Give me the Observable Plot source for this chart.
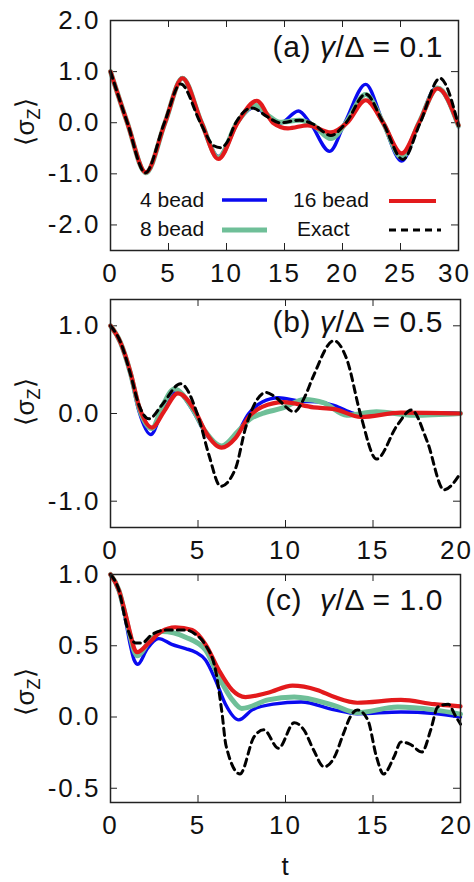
<!DOCTYPE html>
<html><head><meta charset="utf-8">
<script src="https://cdn.jsdelivr.net/npm/d3@7"></script>
<script src="https://cdn.jsdelivr.net/npm/@observablehq/plot@0.6"></script>
<style>
body{margin:0;background:#fff;}
#chart{width:474px;height:882px;}
#chart svg{display:block;overflow:visible;}
</style></head><body><div id="chart"></div>
<script>
// ---- shared ----
const seriesNames = ["4 bead", "8 bead", "16 bead", "Exact"];
const seriesColors = ["#0a0af0", "#6fbf98", "#e31a1c", "#000000"];
const panelLetters = ["(a)", "(b)", "(c)"];
const gammaRatios = ["0.1", "0.5", "1.0"];
const yLabelMain = "⟨σ";
const yLabelSub = "Z";
const yLabelEnd = "⟩";
const xLabel = "t";

// ---- panel (a): γ/Δ = 0.1 ----
const aXTicks = [0, 5, 10, 15, 20, 25, 30];
const aYTicks = [-2, -1, 0, 1, 2];
const aT4 = [0, 1.45, 3.05, 4.7, 6.2, 7.85, 9.3, 10.9, 12.4, 13.6, 14.6, 16.2, 17.2, 18.9, 20.2, 22.0, 23.5, 25.1, 26.6, 28.1, 30];
const aV4 = [1.0, 0, -0.98, 0, 0.88, 0, -0.66, 0, 0.30, 0.12, -0.01, 0.23, 0, -0.56, 0, 0.75, 0, -0.75, 0, 0.69, -0.08];
const aT8 = [0, 1.45, 3.05, 4.7, 6.2, 7.85, 9.3, 10.9, 12.5, 13.6, 14.6, 16.3, 17.5, 19.0, 20.3, 22.0, 23.5, 25.1, 26.6, 28.2, 30];
const aV8 = [1.0, 0, -0.98, 0, 0.87, 0, -0.68, 0, 0.34, 0.14, 0.01, 0.05, -0.05, -0.31, 0, 0.55, 0, -0.68, 0, 0.68, -0.06];
const aT16 = [0, 1.45, 3.05, 4.7, 6.2, 7.85, 9.3, 10.95, 12.6, 14.0, 15.3, 17.0, 19.0, 20.4, 22.0, 23.5, 25.1, 26.6, 28.2, 30];
const aV16 = [1.0, 0, -0.97, 0, 0.87, 0, -0.71, 0, 0.43, 0, -0.11, -0.05, -0.19, 0, 0.44, 0, -0.6, 0, 0.67, -0.05];
const aTx = [0, 1.45, 3.0, 4.65, 6.05, 7.75, 8.9, 9.5, 10.0, 10.8, 12.2, 13.5, 14.6, 16.3, 17.5, 19.0, 20.3, 22.0, 23.5, 25.2, 26.7, 28.4, 30];
const aVx = [1.0, 0, -0.98, 0, 0.76, 0, -0.45, -0.49, -0.40, 0, 0.29, 0.12, 0.0, 0.05, -0.03, -0.25, 0, 0.56, 0, -0.72, 0, 0.87, -0.06];

// ---- panel (b): γ/Δ = 0.5 ----
const bXTicks = [0, 5, 10, 15, 20];
const bYTicks = [-1, 0, 1];
const bT4 = [0, 0.57, 1.14, 1.62, 2.3, 3.0, 3.75, 4.8, 5.4, 6.35, 7.14, 7.9, 8.67, 9.6, 10.8, 12.0, 12.8, 13.9, 14.4, 16.0, 20];
const bV4 = [1.0, 0.80, 0.44, 0.03, -0.24, 0.05, 0.25, 0.0, -0.22, -0.37, -0.26, 0.0, 0.13, 0.18, 0.14, 0.13, 0.09, 0.0, -0.02, 0.0, 0.01];
const bT8 = [0, 0.57, 1.14, 1.62, 2.35, 3.0, 3.65, 4.7, 5.4, 6.35, 7.3, 8.0, 8.67, 9.8, 11.1, 12.2, 13.5, 15.2, 17.3, 20];
const bV8 = [1.0, 0.81, 0.46, 0.07, -0.17, 0.10, 0.28, 0.05, -0.20, -0.37, -0.20, -0.06, 0.0, 0.06, 0.16, 0.12, -0.02, 0.02, -0.02, 0.0];
const bT16 = [0, 0.57, 1.14, 1.62, 2.38, 3.05, 3.85, 4.86, 5.43, 6.35, 7.14, 7.9, 8.67, 9.9, 11.6, 12.8, 14.3, 16.6, 20];
const bV16 = [1.0, 0.81, 0.47, 0.09, -0.16, 0.02, 0.23, 0.02, -0.21, -0.39, -0.28, -0.04, 0.075, 0.13, 0.07, 0.05, -0.04, 0.01, 0.0];
const bTx = [0, 0.6, 1.14, 1.62, 2.2, 2.95, 4.0, 5.05, 5.62, 6.29, 7.14, 7.71, 8.29, 8.9, 9.4, 10.5, 11.1, 11.6, 12.76, 13.5, 14.3, 15.2, 16.4, 17.2, 18.1, 19.05, 20];
const bVx = [1.0, 0.80, 0.45, 0.10, -0.06, 0.10, 0.34, -0.06, -0.47, -0.83, -0.63, -0.17, 0.13, 0.24, 0.19, 0.02, 0.19, 0.43, 0.83, 0.62, -0.02, -0.52, -0.13, 0.04, -0.32, -0.87, -0.68];

// ---- panel (c): γ/Δ = 1.0 ----
const cXTicks = [0, 5, 10, 15, 20];
const cYTicks = [-0.5, 0, 0.5, 1.0];
const cT4 = [0, 0.48, 0.86, 1.14, 1.35, 1.56, 2.1, 2.76, 3.5, 4.29, 4.86, 5.43, 6.0, 6.57, 7.33, 8.1, 9.3, 10.9, 12.8, 14.1, 16.6, 18.5, 20];
const cV4 = [1.0, 0.88, 0.68, 0.50, 0.40, 0.37, 0.48, 0.55, 0.51, 0.48, 0.455, 0.40, 0.26, 0.09, -0.02, 0.05, 0.09, 0.105, 0.05, 0.023, 0.035, 0.025, 0.0];
const cT8 = [0, 0.48, 0.86, 1.14, 1.33, 1.55, 2.2, 2.95, 4.29, 5.43, 6.19, 6.9, 7.5, 9.0, 10.5, 12.8, 14.1, 16.4, 18.5, 20];
const cV8 = [1.0, 0.89, 0.71, 0.56, 0.47, 0.43, 0.53, 0.60, 0.56, 0.47, 0.28, 0.13, 0.06, 0.12, 0.14, 0.08, 0.03, 0.07, 0.05, 0.02];
const cT16 = [0, 0.48, 0.86, 1.14, 1.33, 1.52, 2.19, 2.9, 3.7, 4.67, 5.43, 6.19, 6.95, 7.71, 9.0, 10.4, 11.8, 12.8, 14.1, 16.6, 18.5, 20];
const cV16 = [1.0, 0.89, 0.72, 0.58, 0.49, 0.455, 0.52, 0.60, 0.63, 0.61, 0.51, 0.33, 0.19, 0.14, 0.17, 0.22, 0.19, 0.14, 0.10, 0.12, 0.09, 0.075];
const cTx = [0, 0.48, 0.95, 1.43, 1.8, 2.38, 3.2, 4.3, 4.86, 5.4, 6.0, 6.38, 6.6, 7.4, 8.2, 8.76, 9.6, 10.5, 11.05, 11.6, 12.2, 12.8, 13.3, 13.7, 14.1, 14.7, 15.2, 15.6, 16.2, 16.6, 17.1, 17.8, 18.3, 18.7, 19.3, 19.7, 20];
const cVx = [1.0, 0.89, 0.63, 0.52, 0.52, 0.58, 0.61, 0.61, 0.58, 0.51, 0.33, 0.02, -0.20, -0.40, -0.14, -0.09, -0.22, -0.04, -0.09, -0.23, -0.35, -0.28, -0.12, 0.0, 0.05, -0.02, -0.28, -0.40, -0.28, -0.175, -0.19, -0.245, -0.09, 0.07, 0.09, 0.01, -0.05];

const seriesStyle = [
  {width: 3.4, dash: null},
  {width: 5, dash: null},
  {width: 4.2, dash: null},
  {width: 3, dash: "7,5"}
];

const FONT = "'Liberation Sans', Arial, Helvetica, sans-serif";
const W = 474, ML = 110;

function makePanel(cfg) {
  const iw = W - ML - cfg.mr;
  const ih = cfg.height - cfg.mt - cfg.mb;
  const marks = [];
  marks.push(Plot.tickY(cfg.yTicks, {y: d => d, insetRight: iw - 7, stroke: "#222", strokeWidth: 1}));
  marks.push(Plot.tickY(cfg.yTicks, {y: d => d, insetLeft: iw - 7, stroke: "#222", strokeWidth: 1}));
  marks.push(Plot.tickX(cfg.xTicks, {x: d => d, insetBottom: ih - 7, stroke: "#222", strokeWidth: 1}));
  marks.push(Plot.tickX(cfg.xTicks, {x: d => d, insetTop: ih - 7, stroke: "#222", strokeWidth: 1}));
  cfg.series.forEach((s, i) => {
    const data = d3.zip(s[0], s[1]);
    marks.push(Plot.line(data, {
      x: d => d[0], y: d => d[1],
      stroke: seriesColors[i], strokeWidth: seriesStyle[i].width,
      strokeDasharray: seriesStyle[i].dash, curve: "monotone-x"
    }));
  });
  marks.push(Plot.frame({stroke: "#222", strokeWidth: 1.5}));
  const xt = cfg.xTicks;
  marks.push(Plot.axisX(xt.slice(0, -1), {tickSize: 0, tickPadding: 13, fontSize: 26, label: null}));
  marks.push(Plot.axisX(xt.slice(-1), {tickSize: 0, tickPadding: 13, fontSize: 26, label: null, dx: -4}));
  marks.push(Plot.axisY(cfg.yTicks, {tickSize: 0, tickPadding: 10, fontSize: 26, tickFormat: d => d.toFixed(1), label: null}));
  const svg = Plot.plot({
    width: W, height: cfg.height,
    marginTop: cfg.mt, marginBottom: cfg.mb, marginLeft: ML, marginRight: cfg.mr,
    x: {domain: cfg.xDomain}, y: {domain: cfg.yDomain},
    style: {fontFamily: FONT, letterSpacing: "2px", color: "#111", background: "#fff", overflow: "visible"},
    marks
  });
  const g = d3.select(svg);
  // title
  const tt = g.append("text").attr("x", 443).attr("y", cfg.titleY)
    .attr("text-anchor", "end").attr("font-size", 30).attr("letter-spacing", "0.6px")
    .attr("fill", "#111").attr("font-family", FONT);
  tt.append("tspan").text(panelLetters[cfg.idx] + (cfg.idx === 2 ? "  " : " "));
  tt.append("tspan").attr("font-style", "italic").text("γ");
  tt.append("tspan").text("/Δ = " + gammaRatios[cfg.idx]);
  // y label
  const yl = g.append("text").attr("transform", `translate(25,${cfg.ylabelY}) rotate(-90)`)
    .attr("text-anchor", "middle").attr("dy", "0.35em").attr("font-size", 26)
    .attr("letter-spacing", "0px").attr("fill", "#111").attr("font-family", FONT);
  yl.append("tspan").text(yLabelMain);
  yl.append("tspan").attr("font-size", 18).attr("dy", 6).text(yLabelSub);
  yl.append("tspan").attr("dy", -6).text(yLabelEnd);
  return svg;
}

const chart = document.getElementById("chart");

const svgA = makePanel({idx: 0, height: 290, mt: 20, mb: 40, mr: 16, xDomain: [0, 30], yDomain: [-2.5, 2.0],
  xTicks: aXTicks, yTicks: aYTicks, titleY: 57, ylabelY: 122,
  series: [[aT4, aV4], [aT8, aV8], [aT16, aV16], [aTx, aVx]]});
// legend in panel (a)
{
  const g = d3.select(svgA);
  const pos = [
    {tx: 140, ty: 207, lx1: 222, lx2: 267, ly: 200},
    {tx: 140, ty: 236, lx1: 222, lx2: 267, ly: 230},
    {tx: 293, ty: 207, lx1: 389, lx2: 436, ly: 201},
    {tx: 297, ty: 236, lx1: 389, lx2: 441, ly: 230}
  ];
  seriesNames.forEach((name, i) => {
    const p = pos[i];
    g.append("text").attr("x", p.tx).attr("y", p.ty).attr("font-size", 21)
      .attr("text-anchor", "start")
      .attr("letter-spacing", "0px").attr("fill", "#111").attr("font-family", FONT).text(name);
    g.append("line").attr("x1", p.lx1).attr("x2", p.lx2).attr("y1", p.ly).attr("y2", p.ly)
      .attr("stroke", seriesColors[i]).attr("stroke-width", seriesStyle[i].width)
      .attr("stroke-dasharray", seriesStyle[i].dash);
  });
}
chart.appendChild(svgA);

const svgB = makePanel({idx: 1, height: 270, mt: 9, mb: 33, mr: 14, xDomain: [0, 20], yDomain: [-1.3, 1.3],
  xTicks: bXTicks, yTicks: bYTicks, titleY: 42, ylabelY: 112,
  series: [[bT4, bV4], [bT8, bV8], [bT16, bV16], [bTx, bVx]]});
chart.appendChild(svgB);

const svgC = makePanel({idx: 2, height: 322, mt: 14, mb: 80, mr: 14, xDomain: [0, 20], yDomain: [-0.6, 1.0],
  xTicks: cXTicks, yTicks: cYTicks, titleY: 50, ylabelY: 132,
  series: [[cT4, cV4], [cT8, cV8], [cT16, cV16], [cTx, cVx]]});
d3.select(svgC).append("text").attr("x", 285).attr("y", 315).attr("text-anchor", "middle")
  .attr("font-size", 26).attr("letter-spacing", "0px").attr("fill", "#111").attr("font-family", FONT).text(xLabel);
chart.appendChild(svgC);
</script>
</body></html>
